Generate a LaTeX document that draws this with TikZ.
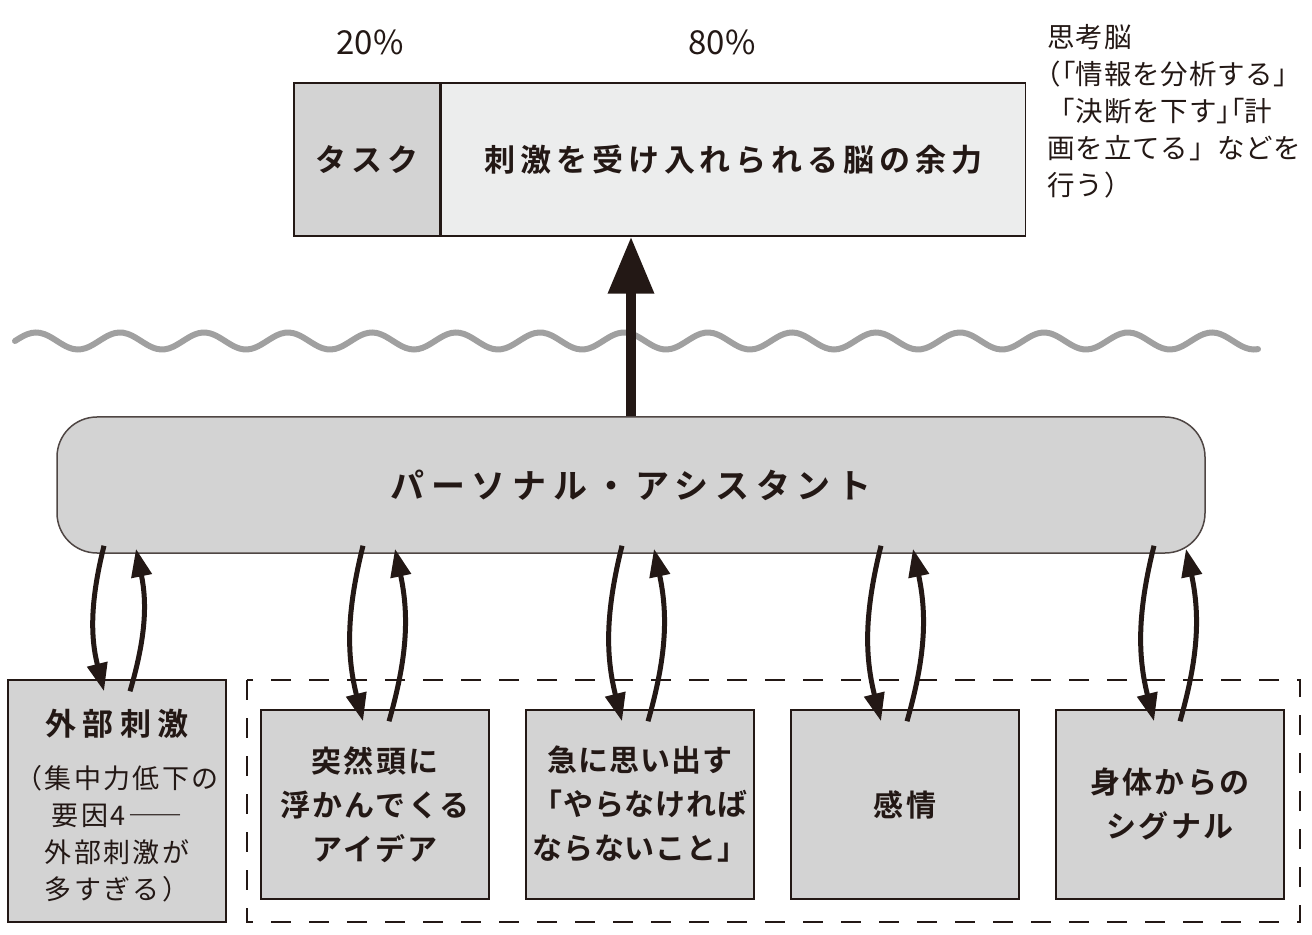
\documentclass[tikz,border=0pt]{standalone}
\usepackage{fontspec}
\usepackage{tikz}
\usetikzlibrary{arrows.meta,calc,positioning}
\newfontfamily\jpr{Noto Sans CJK JP}
\newfontfamily\jpb{Noto Sans CJK JP Bold}
\definecolor{ink}{HTML}{231815}
\definecolor{boxgray}{HTML}{D3D3D3}
\definecolor{paper}{HTML}{ECEDED}
\definecolor{wavegray}{HTML}{A0A0A0}
\tikzset{
    %Define style for the gray boxes
    itembox/.style={
           rectangle,
           draw=ink, line width=0.75pt,
           fill=boxgray,
           minimum width=114pt,
           minimum height=94.5pt,
           inner sep=0pt,
           align=center,
           text=ink,
           font=\jpb\fontsize{15}{22}\selectfont\addfontfeature{LetterSpace=8}},
    barbox/.style={
           rectangle,
           draw=ink, line width=0.75pt,
           minimum height=76.5pt,
           inner sep=0pt,
           text=ink,
           font=\jpb\fontsize{15.5}{18}\selectfont\addfontfeature{LetterSpace=16}},
    helper/.style={
           rectangle,
           rounded corners=20pt,
           draw=ink!80, line width=0.75pt,
           fill=boxgray,
           minimum width=574pt,
           minimum height=68pt,
           text=ink,
           font=\jpb\fontsize{17}{20}\selectfont\addfontfeature{LetterSpace=20}},
    pct/.style={
           text=ink,
           font=\jpr\fontsize{16.5}{18}\selectfont},
    note/.style={
           align=left,
           inner sep=0pt,
           text=ink,
           font=\jpr\fontsize{13.75}{18.5}\selectfont\addfontfeature{LetterSpace=3}},
    % Define arrow styles
    link/.style={
           -{Triangle[length=14pt,width=10pt]},
           draw=ink, line width=2.5pt},
    bigarrow/.style={
           -{Triangle[length=28.5pt,width=22pt]},
           draw=ink, line width=5pt},
    wave/.style={
           draw=wavegray, line width=3pt, line cap=round},
    group/.style={
           draw=ink, line width=1.25pt,
           dash pattern=on 10pt off 9pt}
}
\begin{document}
\begin{tikzpicture}[x=0.5pt,y=-0.5pt]
\useasboundingbox (0,0) rectangle (1312,935);
% brain bar
\node[barbox, fill=boxgray, minimum width=73pt] (task) at (367,159.5) {タスク};
\node[barbox, fill=paper, minimum width=292pt, right=0pt of task] (capa) {刺激を受け入れられる脳の余力};
\node[pct] (p20) at (370,42) {20\%};
\node[pct] (p80) at (722,42) {80\%};
\node[note, anchor=north west] (brain) at (1047,24)
  {思考脳\\{\addfontfeature{RawFeature=+halt}（「}情報を分析する」\\「決断を下す{\addfontfeature{RawFeature=+halt}」「}計\\画を立てる」などを\\行う）};
% water line
\draw[wave] plot[domain=15:1258, samples=300, smooth] (\x, {341-8.5*sin(4.285714*(\x-15))});
% assistant
\node[helper] (persona) at (631,485) {パーソナル・アシスタント};
\draw[bigarrow] (persona.north) -- (persona.north |- capa.south);
% sources
\node[itembox, minimum width=109pt, minimum height=121pt,
      font=\jpr\fontsize{13.5}{18.5}\selectfont\addfontfeature{LetterSpace=9}] (ext) at (117,801)
  {\rule{0pt}{18pt}{\jpb\fontsize{15.5}{18}\selectfont\addfontfeature{LetterSpace=20}外部刺激}\\[8pt]（集中力低下の\\要因4――\\外部刺激が\\多すぎる）};
\node[itembox] (idea) at (375,804.5) {突然頭に\\浮かんでくる\\アイデア};
\node[itembox, right=17.75pt of idea, font=\jpb\fontsize{15}{22}\selectfont\addfontfeature{LetterSpace=3}] (todo) {急に思い出す\\「やらなければ\\ならないこと」};
\node[itembox, right=17.75pt of todo] (emo) {感情};
\node[itembox, right=17.75pt of emo] (body) {身体からの\\シグナル};
\draw[group] (247,680) rectangle (1300,922);
\foreach \b/\o in {ext/1, idea/2, todo/-4, emo/-10, body/-2} {
  \draw[link] ($(persona.south -| \b.north)+(\o-14,-8)$) to[bend right=14] ($(\b.north)+(\o-14,12)$);
  \draw[link] ($(\b.north)+(\o+12,12)$) to[bend right=14] ($(persona.south -| \b.north)+(\o+18,-5)$);
}
\end{tikzpicture}
\end{document}
